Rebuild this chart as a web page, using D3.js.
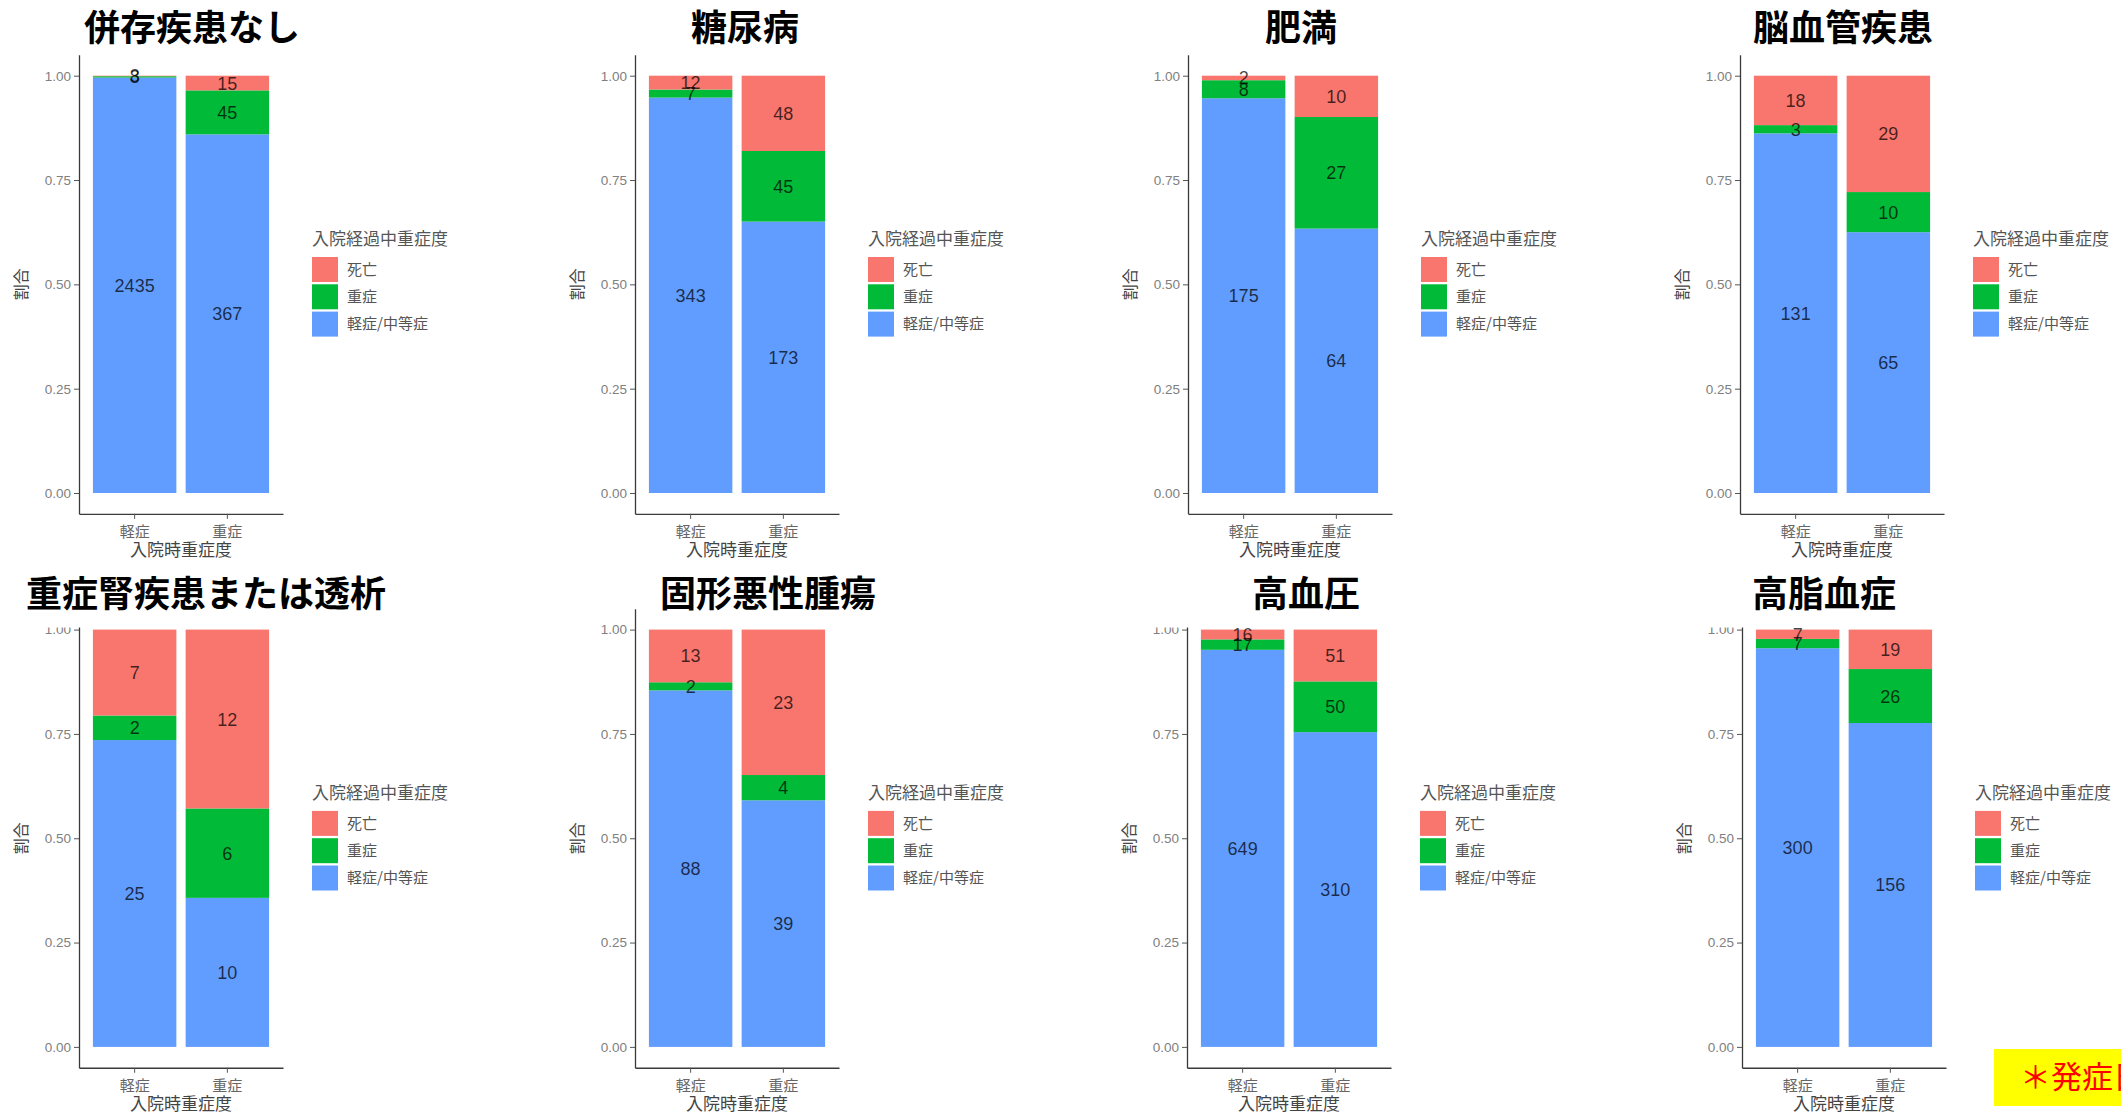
<!DOCTYPE html>
<html>
<head>
<meta charset="utf-8">
<script src="https://cdn.jsdelivr.net/npm/d3@7"></script>
<style>
  html, body { margin: 0; padding: 0; background: #fff; overflow: hidden; }
  svg { display: block; }
</style>
</head>
<body>
<svg id="chart" width="2121" height="1114"></svg>
<script>
// ---- data ----
const panelTitles = ["併存疾患なし", "糖尿病", "肥満", "脳血管疾患",
                     "重症腎疾患または透析", "固形悪性腫瘍", "高血圧", "高脂血症"];
const admissionLevels = ["軽症", "重症"];                 // x categories
const outcomeLevels = ["死亡", "重症", "軽症/中等症"];      // legend order
// counts per panel: [admitted 軽症, admitted 重症]
const deathCounts        = [[3, 15], [12, 48], [2, 10], [18, 29], [7, 12], [13, 23], [16, 51], [7, 19]];
const severeCounts       = [[8, 45], [7, 45],  [8, 27], [3, 10],  [2, 6],  [2, 4],   [17, 50], [7, 26]];
const mildModerateCounts = [[2435, 367], [343, 173], [175, 64], [131, 65], [25, 10], [88, 39], [649, 310], [300, 156]];
const yTickValues = [0, 0.25, 0.5, 0.75, 1];
const legendTitle = "入院経過中重症度";
const xAxisTitle = "入院時重症度";
const yAxisTitle = "割合";
const footnote = "＊発症日";

// ---- styling / layout ----
const fillColor = { "死亡": "#F8766D", "重症": "#00BA38", "軽症/中等症": "#619CFF" };
const cjk = "'Noto Sans CJK JP', 'Noto Sans', sans-serif";
const latin = "'Liberation Sans', Arial, sans-serif";

const axisX = [79, 635, 1188, 1740, 79, 635, 1187, 1742];   // y-axis position of each panel
const rowOne = [75.7, 629.6];           // pixel y of proportion 1.00 for each row
const unitH = 417.3;                    // pixels per 1.0 of proportion
const plotW = 204;
const titleX = [192, 745, 1301, 1843, 206, 768, 1306, 1824];
const titleY = [27, 593];

const svg = d3.select("#chart");
svg.append("rect").attr("width", 2121).attr("height", 1114).attr("fill", "#fff");

const stackKeys = outcomeLevels.slice().reverse();   // bottom → top

panelTitles.forEach((title, i) => {
  const row = Math.floor(i / 4);
  const x0 = axisX[i];
  const yTop = rowOne[row];
  const yZero = yTop + unitH;

  const rows = admissionLevels.map((lvl, j) => ({
    admission: lvl,
    "死亡": deathCounts[i][j],
    "重症": severeCounts[i][j],
    "軽症/中等症": mildModerateCounts[i][j]
  }));
  const series = d3.stack().keys(stackKeys).offset(d3.stackOffsetExpand)(rows);

  const x = d3.scaleBand().domain(admissionLevels)
    .range([x0, x0 + plotW]).paddingInner(0.1).paddingOuter(0.15);
  const y = d3.scaleLinear().domain([-0.05, 1.05])
    .range([yZero + 0.05 * unitH, yTop - 0.05 * unitH]);

  const g = svg.append("g").attr("class", "panel");

  // stacked proportion bars
  series.forEach(s => {
    g.append("g").selectAll("rect").data(s).join("rect")
      .attr("x", d => x(d.data.admission))
      .attr("y", d => y(d[1]))
      .attr("width", x.bandwidth())
      .attr("height", d => y(d[0]) - y(d[1]))
      .attr("fill", fillColor[s.key]);
  });

  // count labels centred in each segment
  series.forEach(s => {
    g.append("g").selectAll("text").data(s).join("text")
      .attr("x", d => x(d.data.admission) + x.bandwidth() / 2)
      .attr("y", d => y((d[0] + d[1]) / 2))
      .attr("dy", "0.36em")
      .attr("text-anchor", "middle")
      .attr("font-family", latin)
      .attr("font-size", 18)
      .attr("fill", "#000")
      .attr("fill-opacity", 0.72)
      .text(d => d.data[s.key]);
  });

  // y axis
  const ya = g.append("g").attr("transform", `translate(${x0},0)`)
    .call(d3.axisLeft(y).tickValues(yTickValues).tickFormat(d3.format(".2f"))
      .tickSize(5).tickPadding(3).tickSizeOuter(0));
  ya.select(".domain").attr("stroke", "#3a3a3a").attr("stroke-width", 1.3);
  ya.selectAll(".tick line").attr("stroke", "#555");
  ya.selectAll(".tick text").attr("font-family", latin).attr("font-size", 13.5).attr("fill", "#808080");

  // x axis
  const xa = g.append("g").attr("transform", `translate(0,${yZero + 0.05 * unitH})`)
    .call(d3.axisBottom(x).tickSize(5).tickSizeOuter(0));
  xa.select(".domain").attr("stroke", "#3a3a3a").attr("stroke-width", 1.3);
  xa.selectAll(".tick line").attr("stroke", "#555");
  xa.selectAll(".tick text").attr("font-family", cjk).attr("font-size", 15)
    .attr("fill", "#666").attr("y", 18).attr("dy", "0.35em");

  // axis titles
  g.append("text")
    .attr("x", x0 + plotW / 2).attr("y", yZero + 0.05 * unitH + 36).attr("dy", "0.35em")
    .attr("text-anchor", "middle").attr("font-family", cjk).attr("font-size", 17)
    .attr("fill", "#444").text(xAxisTitle);
  g.append("text")
    .attr("transform", `translate(${x0 - 58},${y(0.5)}) rotate(-90)`)
    .attr("dy", "0.35em").attr("text-anchor", "middle")
    .attr("font-family", cjk).attr("font-size", 16).attr("fill", "#444").text(yAxisTitle);

  // legend
  const lx = x0 + 233;
  const lg = g.append("g");
  lg.append("text").attr("x", lx).attr("y", yTop + 163).attr("dy", "0.35em")
    .attr("font-family", cjk).attr("font-size", 17).attr("fill", "#555").text(legendTitle);
  outcomeLevels.forEach((lvl, k) => {
    const ky = yTop + 181.3 + k * 27.3;
    lg.append("rect").attr("x", lx).attr("y", ky).attr("width", 26).attr("height", 25)
      .attr("fill", fillColor[lvl]);
    lg.append("text").attr("x", lx + 35).attr("y", ky + 12.5).attr("dy", "0.35em")
      .attr("font-family", cjk).attr("font-size", 15).attr("fill", "#555").text(lvl);
  });
});

// white banners behind some lower-row titles overlap the top of their axes
const bannerBoxes = [[0, 560, 420, 67.5], [1150, 560, 250, 67.5], [1700, 560, 230, 67.5]];
bannerBoxes.forEach(b => svg.append("rect")
  .attr("x", b[0]).attr("y", b[1]).attr("width", b[2]).attr("height", b[3]).attr("fill", "#fff"));

// panel titles
panelTitles.forEach((title, i) => {
  svg.append("text")
    .attr("x", titleX[i]).attr("y", titleY[Math.floor(i / 4)]).attr("dy", "0.38em")
    .attr("text-anchor", "middle").attr("font-family", cjk).attr("font-weight", 700)
    .attr("font-size", 36).attr("fill", "#000").text(title);
});

// footnote tag in the lower-right corner
svg.append("rect").attr("x", 1994).attr("y", 1049).attr("width", 140).attr("height", 57).attr("fill", "#ffff00");
svg.append("text").attr("x", 2020).attr("y", 1077).attr("dy", "0.36em")
  .attr("font-family", cjk).attr("font-size", 31).attr("fill", "#ff0000").text(footnote);
</script>
</body>
</html>
